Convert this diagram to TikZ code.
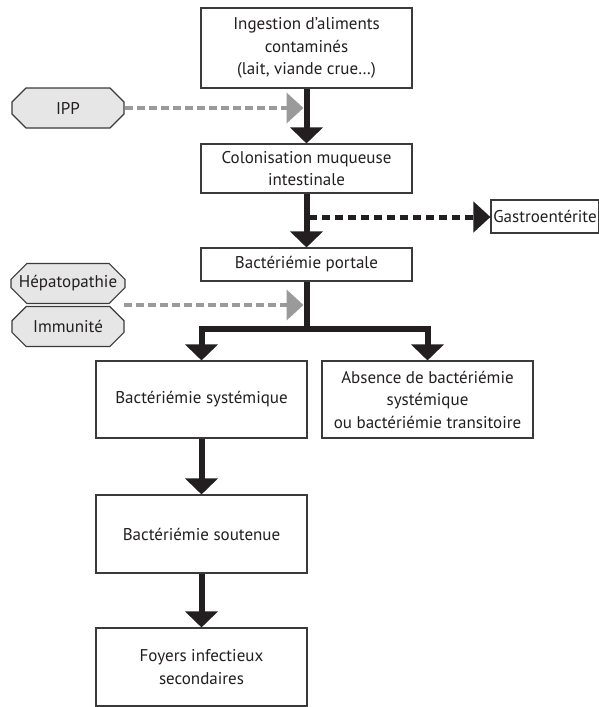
\documentclass[tikz,border=0pt]{standalone}
\usepackage{fontspec}
\setmainfont{PT Sans}
\usetikzlibrary{arrows.meta,shapes.misc}
\definecolor{ink}{HTML}{231F20}
\definecolor{dashgray}{HTML}{9A9A9A}
\definecolor{boxgray}{HTML}{E6E6E6}
\definecolor{edge}{HTML}{3A3A3A}
\tikzset{
  box/.style={draw=edge, line width=1.1pt, fill=white, rectangle, inner sep=0pt,
    align=center, text=ink, font=\fontsize{17}{22.5}\selectfont},
  graybox/.style={draw=edge, line width=1.1pt, fill=boxgray, chamfered rectangle,
    chamfered rectangle sep=8pt, inner sep=0pt, minimum width=112pt, minimum height=40pt,
    align=center, text=ink, font=\fontsize{17}{22.5}\selectfont},
  blk/.style={draw=ink, line width=6pt},
  blkarrow/.style={blk, -{Triangle[width=32pt,length=16pt]}},
  grayarrow/.style={draw=dashgray, line width=4.5pt, dash pattern=on 8pt off 4pt,
    -{Triangle[width=30pt,length=17pt]}},
  blkdash/.style={draw=ink, line width=5pt, dash pattern=on 8pt off 5pt,
    -{Triangle[width=30pt,length=17pt]}}
}
\begin{document}
\begin{tikzpicture}[x=1pt,y=-1pt]
\useasboundingbox (0,0) rectangle (599,707);
% main column
\node[box, minimum width=211pt, minimum height=80pt] (ingest) at (306.5,48)
  {Ingestion d’aliments\\contaminés\\(lait, viande crue…)};
\node[box, minimum width=211pt, minimum height=49pt] (colon) at (306.5,168.5)
  {Colonisation muqueuse\\intestinale};
\node[box, minimum width=211pt, minimum height=33pt] (portale) at (306.5,264.5)
  {Bactériémie portale};
\node[box, minimum width=108pt, minimum height=33pt] (gastro) at (545,216.5)
  {Gastroentérite};
% lower boxes
\node[box, minimum width=211pt, minimum height=77pt] (syst) at (201.5,399.5)
  {Bactériémie systémique};
\node[box, minimum width=211pt, minimum height=77pt] (abs) at (427.5,399.5)
  {Absence de bactériémie\\systémique\\ou bactériémie transitoire};
\node[box, minimum width=211pt, minimum height=78pt] (sout) at (201.5,534)
  {Bactériémie soutenue};
\node[box, minimum width=211pt, minimum height=78pt] (foyers) at (201.5,667)
  {Foyers infectieux\\secondaires};
% factor boxes
\node[graybox] (ipp) at (68,108) {IPP};
\node[graybox] (hep) at (68,283.5) {Hépatopathie};
\node[graybox] (imm) at (68,326.5) {Immunité};
% coordinates
\coordinate (ippend) at (303.5,108);
\coordinate (hepimm) at (124,305);
\coordinate (factend) at (303.5,305);
\coordinate (gstart) at (309,217);
\coordinate (split) at (306.5,329);
% connectors
\draw[blkarrow] (ingest.south) -- (colon.north);
\draw[blkarrow] (colon.south) -- (portale.north);
\draw[blk] (portale.south) -- (split);
\draw[blkarrow] (split) -| (syst.north);
\draw[blkarrow] (split) -| (abs.north);
\draw[blkarrow] (syst.south) -- (sout.north);
\draw[blkarrow] (sout.south) -- (foyers.north);
\draw[grayarrow] (ipp.east |- ippend) -- (ippend);
\draw[grayarrow] (hepimm) -- (factend);
\draw[blkdash] (gstart) -- (gastro.west |- gstart);
\end{tikzpicture}
\end{document}
